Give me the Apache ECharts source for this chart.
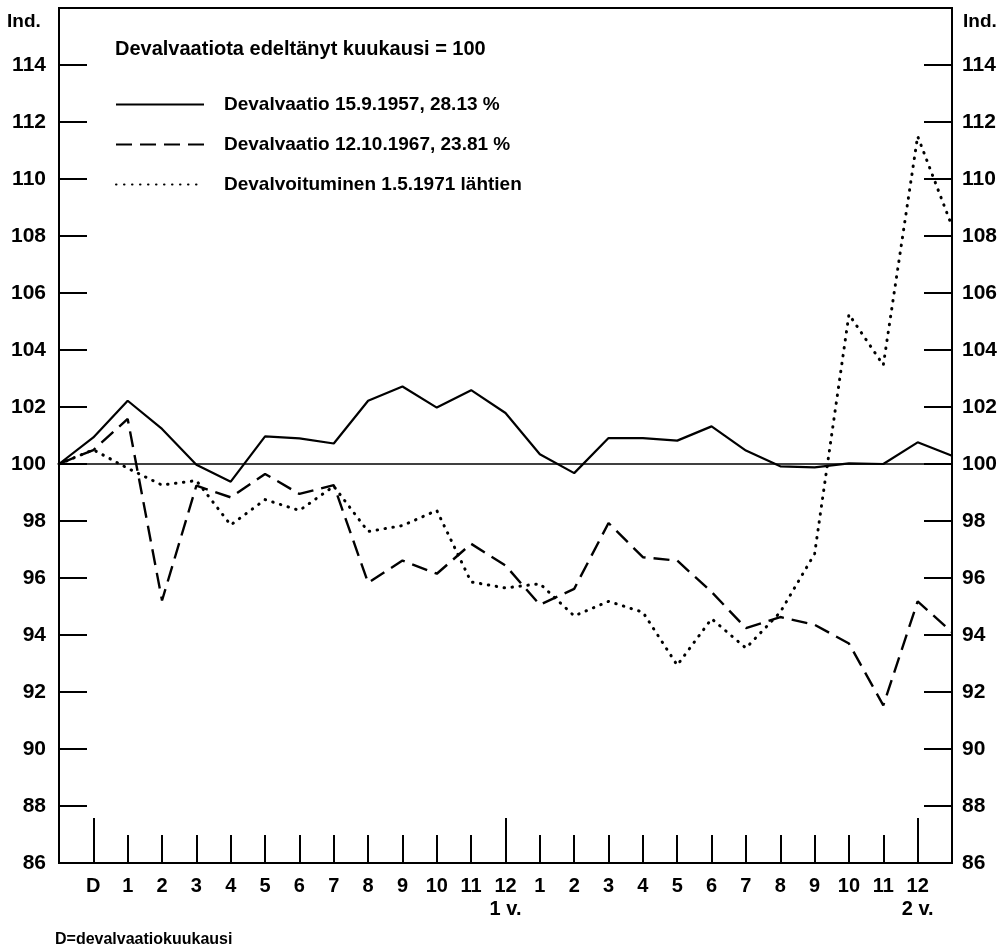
<!DOCTYPE html>
<html>
<head>
<meta charset="utf-8">
<script src="https://cdn.jsdelivr.net/npm/echarts@6/dist/echarts.min.js"></script>
<style>html,body{margin:0;padding:0;background:#fff}#c{width:1006px;height:947px}</style>
</head>
<body>
<div id="c"></div>
<script>
// Categories: base month (unlabelled), devaluation month D, months 1..12 of year 1, 1..12 of year 2, one more month at the right edge
var categories = ['', 'D', '1', '2', '3', '4', '5', '6', '7', '8', '9', '10', '11', '12\n1 v.',
  '1', '2', '3', '4', '5', '6', '7', '8', '9', '10', '11', '12\n2 v.', ''];

var seriesNames = [
  'Devalvaatio 15.9.1957, 28.13 %',
  'Devalvaatio 12.10.1967, 23.81 %',
  'Devalvoituminen 1.5.1971 lähtien'
];

var deval1957 = [100, 100.93, 102.22, 101.23, 99.97, 99.38, 100.97, 100.90, 100.72, 102.22, 102.72, 101.98, 102.59, 101.79,
  100.34, 99.68, 100.91, 100.91, 100.82, 101.32, 100.47, 99.92, 99.88, 100.02, 100.0, 100.76, 100.29];

var deval1967 = [100, 100.49, 101.58, 95.21, 99.24, 98.83, 99.65, 98.95, 99.26, 95.83, 96.61, 96.15, 97.20, 96.44,
  95.06, 95.62, 97.93, 96.73, 96.61, 95.51, 94.24, 94.63, 94.36, 93.70, 91.53, 95.18, 94.10];

var deval1971 = [100, 100.5, 99.85, 99.26, 99.42, 97.86, 98.75, 98.37, 99.22, 97.63, 97.84, 98.37, 95.86, 95.65,
  95.80, 94.67, 95.18, 94.80, 92.94, 94.57, 93.54, 94.80, 96.85, 105.25, 103.47, 111.5, 108.34];

var yMin = 86, yMax = 116, yStep = 2;
var baseValue = 100;
var titleText = 'Devalvaatiota edeltänyt kuukausi = 100';
var axisUnit = 'Ind.';
var footnote = 'D=devalvaatiokuukausi';

var FONT = "'Liberation Sans', Arial, Helvetica, sans-serif";
var chart = echarts.init(document.getElementById('c'), null, {renderer: 'canvas'});

function yLabel(v) { return v === yMax ? '' : String(v); }

var lastIdx = categories.length - 1;
var bigTicks = [1, 13, 25];

var option = {
  backgroundColor: '#fff',
  animation: false,
  title: [
    {text: axisUnit, left: 7, top: 12, padding: 0, textStyle: {fontFamily: FONT, fontWeight: 'bold', fontSize: 19, color: '#000'}},
    {text: axisUnit, left: 963, top: 12, padding: 0, textStyle: {fontFamily: FONT, fontWeight: 'bold', fontSize: 19, color: '#000'}},
    {text: titleText, left: 115, top: 39, padding: 0, textStyle: {fontFamily: FONT, fontWeight: 'bold', fontSize: 20, color: '#000'}},
    {text: footnote, left: 55, top: 932, padding: 0, textStyle: {fontFamily: FONT, fontWeight: 'bold', fontSize: 16, color: '#000'}}
  ],
  legend: {
    orient: 'vertical',
    left: 115,
    top: 95,
    padding: 0,
    itemWidth: 88,
    itemHeight: 20,
    itemGap: 21,
    selectedMode: false,
    data: seriesNames,
    itemStyle: {opacity: 0},
    textStyle: {fontFamily: FONT, fontWeight: 'bold', fontSize: 19, color: '#000', padding: [0, 0, 0, 15]}
  },
  grid: {left: 59, right: 54, top: 8, bottom: 84, show: true, borderColor: '#000', borderWidth: 2, containLabel: false},
  xAxis: [
    {
      type: 'category', data: categories, boundaryGap: false,
      axisLine: {show: true, lineStyle: {color: '#000', width: 2}},
      axisTick: {show: true, inside: true, length: 28, lineStyle: {color: '#000', width: 2},
        interval: function (i) { return i > 0 && i < lastIdx; }},
      axisLabel: {interval: 0, margin: 12, fontFamily: FONT, fontWeight: 'bold', fontSize: 20, color: '#000', lineHeight: 23},
      splitLine: {show: false}
    },
    {
      type: 'category', data: categories, boundaryGap: false, position: 'bottom',
      axisLine: {show: false},
      axisTick: {show: true, inside: true, length: 45, lineStyle: {color: '#000', width: 2},
        interval: function (i) { return bigTicks.indexOf(i) >= 0; }},
      axisLabel: {show: false},
      splitLine: {show: false}
    }
  ],
  yAxis: [
    {
      type: 'value', position: 'left', min: yMin, max: yMax, interval: yStep,
      axisLine: {show: true, lineStyle: {color: '#000', width: 2}},
      axisTick: {show: true, inside: true, length: 28, lineStyle: {color: '#000', width: 2}},
      axisLabel: {formatter: yLabel, margin: 13, fontFamily: FONT, fontWeight: 'bold', fontSize: 21, color: '#000'},
      splitLine: {show: false}
    },
    {
      type: 'value', position: 'right', min: yMin, max: yMax, interval: yStep,
      axisLine: {show: true, lineStyle: {color: '#000', width: 2}},
      axisTick: {show: true, inside: true, length: 28, lineStyle: {color: '#000', width: 2}},
      axisLabel: {formatter: yLabel, margin: 10, fontFamily: FONT, fontWeight: 'bold', fontSize: 21, color: '#000'},
      splitLine: {show: false}
    }
  ],
  series: [
    {
      name: seriesNames[0], type: 'line', data: deval1957, symbol: 'none',
      lineStyle: {color: '#000', width: 2.2, type: 'solid'}, itemStyle: {color: '#000'},
      markLine: {silent: true, symbol: ['none', 'none'], label: {show: false},
        lineStyle: {color: '#000', width: 1.5, type: 'solid'}, data: [{yAxis: baseValue}]}
    },
    {
      name: seriesNames[1], type: 'line', data: deval1967, symbol: 'none',
      lineStyle: {color: '#000', width: 2.4, type: [16, 8]}, itemStyle: {color: '#000'}
    },
    {
      name: seriesNames[2], type: 'line', data: deval1971, symbol: 'none',
      lineStyle: {color: '#000', width: 3, type: [0.5, 7.5], cap: 'round'}, itemStyle: {color: '#000'}
    }
  ]
};
chart.setOption(option);
</script>
</body>
</html>
